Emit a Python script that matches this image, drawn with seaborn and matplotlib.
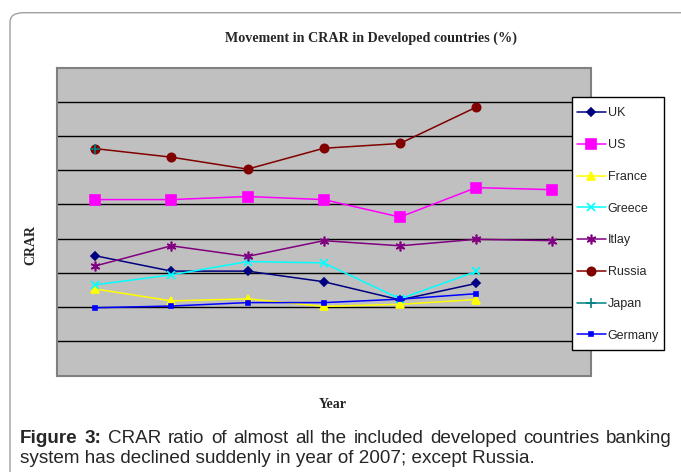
import matplotlib
matplotlib.use("Agg")
import matplotlib.pyplot as plt
import matplotlib.patches as mpatches
import pandas as pd
import seaborn as sns

# values (chart has no tick labels, units are grid steps)
years = [2001, 2002, 2003, 2004, 2005, 2006, 2007]
uk = [3.50, 3.05, 3.05, 2.74, 2.21, 2.69, None]
us = [5.14, 5.14, 5.23, 5.14, 4.63, 5.49, 5.43]
france = [2.53, 2.18, 2.24, 2.02, 2.08, 2.22, None]
greece = [2.65, 2.94, 3.33, 3.29, 2.24, 3.04, None]
itlay = [3.20, 3.79, 3.48, 3.94, 3.79, 3.98, 3.94]
russia = [6.63, 6.38, 6.03, 6.64, 6.78, 7.84, None]
japan = [6.63, None, None, None, None, None, None]
germany = [1.98, 2.03, 2.13, 2.13, 2.23, 2.39, None]

countries = ["UK", "US", "France", "Greece", "Itlay", "Russia", "Japan", "Germany"]
series = [uk, us, france, greece, itlay, russia, japan, germany]
colors = ["#000080", "#FF00FF", "#FFFF00", "#00FFFF", "#800080", "#800000", "#008080", "#0000FF"]
markers = ["D", "s", "^", "x", (6, 2, 0), "o", "+", "s"]
msizes = [4.5, 6.5, 6, 6, 7, 6, 7, 2.5]

title = "Movement in CRAR in Developed countries (%)"
caption1 = "Figure 3: CRAR ratio of almost all the included developed countries banking"
caption2 = "system has declined suddenly in year of 2007; except Russia."

rows = []
for name, vals in zip(countries, series):
    for yr, v in zip(years, vals):
        rows.append({"Year": yr, "CRAR": v, "Country": name})
df = pd.DataFrame(rows).dropna()

sns.set_style("white")
plt.rcParams['font.family'] = ['Liberation Sans', 'DejaVu Sans']

fig = plt.figure(figsize=(6.81, 4.72), dpi=100)
W, H = 681, 472

# outer rounded frame
frame = mpatches.FancyBboxPatch((10 / W, -0.1), 1.2, 1 - 12.7 / H + 0.1,
                                boxstyle="round,pad=0,rounding_size=0.02",
                                transform=fig.transFigure, fc="none", ec="#a0a0a0", lw=1,
                                zorder=-1)
fig.patches.append(frame)

ax = fig.add_axes([57 / W, 1 - 375.5 / H, (590.5 - 57) / W, (375.5 - 67.5) / H])
ax.set_facecolor("#C0C0C0")

for name, col, mk, ms in zip(countries, colors, markers, msizes):
    sub = df[df["Country"] == name]
    sns.lineplot(data=sub, x="Year", y="CRAR", ax=ax, color=col, marker=mk,
                 markersize=ms, markeredgecolor=col, markerfacecolor=col,
                 markeredgewidth=1.2, linewidth=1.1, label=name, legend=False)

ax.set_xlim(years[0] - 0.5, years[-1] + 0.5)
ax.set_ylim(0, 9)
ax.set_yticks(range(1, 9))
ax.yaxis.grid(True, color="black", linewidth=1)
ax.set_axisbelow(True)
ax.set_xticks([])
ax.tick_params(left=False, labelleft=False)
ax.set_xlabel("")
ax.set_ylabel("")
for s in ax.spines.values():
    s.set_color("#808080")
    s.set_linewidth(1.5)

# legend box drawn by hand so its size matches the original
box = mpatches.Rectangle((572 / W, 1 - 350 / H), 92 / W, 253 / H, transform=fig.transFigure,
                         fc="white", ec="black", lw=1, zorder=5)
fig.patches.append(box)
handles, labels = ax.get_legend_handles_labels()
leg = fig.legend(handles, labels, loc="upper left", bbox_to_anchor=(577 / W, 1 - 107.5 / H),
                 frameon=False, fontsize=9, labelspacing=1.58, handlelength=2.3,
                 handletextpad=0.15, borderpad=0, borderaxespad=0)
leg.set_zorder(6)

fig.text(371 / W, 1 - 38 / H, title, family="Liberation Serif", fontweight="bold",
         fontsize=10.2, ha="center", va="center")
fig.text(333 / W, 1 - 405 / H, "Year", family="Liberation Serif", fontweight="bold",
         fontsize=10, ha="center", va="center")
fig.text(31 / W, 1 - 245 / H, "CRAR", family="Liberation Serif", fontweight="bold",
         fontsize=10, ha="center", va="center", rotation=90)

# caption: first line justified between x=20 and x=672
renderer = fig.canvas.get_renderer()
words = caption1.split(" ")
texts = []
for i, w in enumerate(words):
    t = fig.text(0, 1 - 443 / H, w, fontsize=13.6, ha="left", va="baseline",
                 fontweight="bold" if i < 2 else "normal")
    texts.append(t)
widths = [t.get_window_extent(renderer).width for t in texts]
gap = (652 - sum(widths)) / (len(words) - 1)
x = 20
for t, w in zip(texts, widths):
    t.set_x(x / W)
    x += w + gap
fig.text(20 / W, 1 - 463 / H, caption2, fontsize=13.6, ha="left", va="baseline")

fig.savefig("out.png", dpi=100)
